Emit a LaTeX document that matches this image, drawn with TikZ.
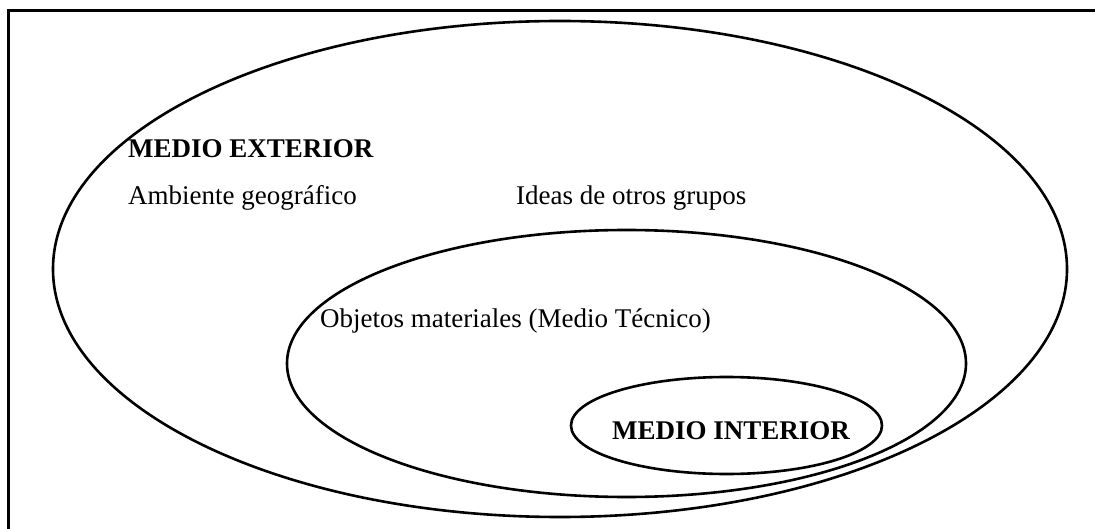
\documentclass[tikz,border=0pt]{standalone}
\usepackage{fontspec}
\setmainfont{Liberation Serif}
\begin{document}
\begin{tikzpicture}[x=1pt,y=-1pt,
  lbl/.style={anchor=base west,inner sep=0pt,font=\fontsize{27}{32}\selectfont},
  blbl/.style={lbl,font=\fontsize{27}{32}\selectfont\bfseries},
  ring/.style={draw=black,line width=2.6pt}]
\useasboundingbox (0,0) rectangle (1095,529);
\clip (0,0) rectangle (1095,529);
\fill[white] (0,0) rectangle (1095,529);
\draw[line width=3pt] (8,10.5) rectangle (1120,560);
\draw[ring] (560,269) ellipse [x radius=507, y radius=248];
\draw[ring] (626.5,363.5) ellipse [x radius=339.5, y radius=133.5];
\draw[ring] (726.5,425.5) ellipse [x radius=155.5, y radius=48.5];
\node[blbl] (ext) at (128,158) {MEDIO EXTERIOR};
\node[lbl] (amb) at (128,205) {Ambiente geográfico};
\node[lbl] (ideas) at (516,205) {Ideas de otros grupos};
\node[lbl] (obj) at (320,327) {Objetos materiales (Medio Técnico)};
\node[blbl] (int) at (612,439) {MEDIO INTERIOR};
\end{tikzpicture}
\end{document}
